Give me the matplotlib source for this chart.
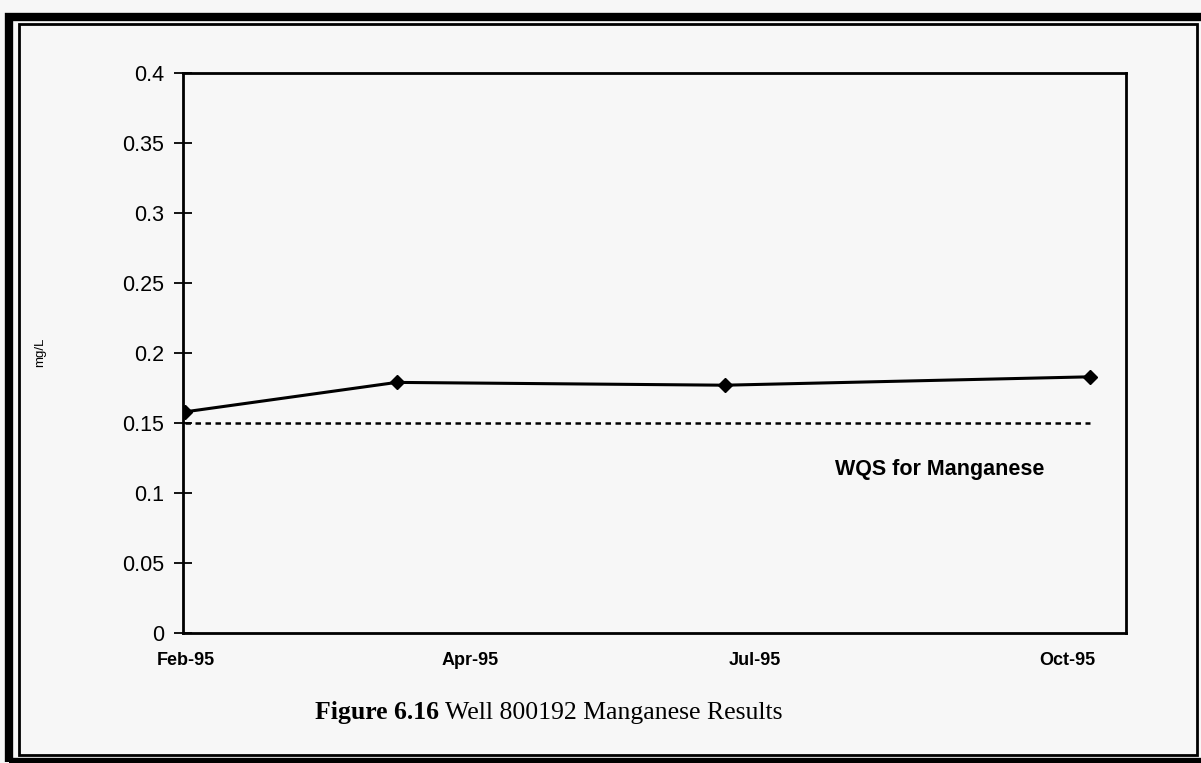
import matplotlib
matplotlib.use("Agg")
import matplotlib.pyplot as plt
import matplotlib.dates as mdates
from matplotlib.patches import Rectangle
import datetime as dt

# Manganese samples, well 800192 (mg/L)
sample_dates = ["1995-02-01", "1995-04-05", "1995-07-12", "1995-10-29"]
mn_values = [0.158, 0.179, 0.177, 0.183]
wqs_limit = 0.15
wqs_label = "WQS for Manganese"

# date axis ticks, labelled as mmm-yy
tick_dates = ["1995-02-01", "1995-04-27", "1995-07-21", "1995-10-22"]
y_ticks = [0, 0.05, 0.1, 0.15, 0.2, 0.25, 0.3, 0.35, 0.4]
y_ticklabels = ["0", "0.05", "0.1", "0.15", "0.2", "0.25", "0.3", "0.35", "0.4"]

to_date = lambda s: dt.datetime.strptime(s, "%Y-%m-%d")
x = [to_date(s) for s in sample_dates]
xt = [to_date(s) for s in tick_dates]

W, H = 1201, 763
bg = "#f7f7f7"
fig = plt.figure(figsize=(W / 100, H / 100), dpi=100, facecolor=bg)


def box(px0, py0, px1, py1):
    # pixel box (top-left origin) -> figure fraction rect
    return [px0 / W, 1 - py1 / H, (px1 - px0) / W, (py1 - py0) / H]


ax = fig.add_axes(box(183, 73, 1126, 633))
ax.set_facecolor(bg)

ax.plot(x, mn_values, color="black", lw=2.2, marker="D", ms=7,
        markerfacecolor="black", markeredgecolor="black", zorder=3)
ax.plot([x[0], x[-1]], [wqs_limit, wqs_limit], color="black", lw=1.8,
        linestyle=(0, (2.2, 1.8)), zorder=2)
ax.text(to_date("1995-09-14"), 0.117, wqs_label, fontsize=15.5,
        fontweight="bold", family="Liberation Sans", ha="center", va="center")

ax.set_ylim(0, 0.4)
ax.set_xlim(to_date("1995-02-01") - dt.timedelta(days=0.7),
            to_date("1995-02-01") + dt.timedelta(days=280.6))
ax.set_yticks(y_ticks)
ax.set_yticklabels(y_ticklabels, family="Liberation Sans", fontsize=15.5)
ax.set_xticks(xt)
ax.xaxis.set_major_formatter(mdates.DateFormatter("%b-%y"))
for lab in ax.get_xticklabels():
    lab.set_family("Liberation Sans")
    lab.set_fontsize(13)
    lab.set_fontweight("bold")
ax.tick_params(axis="y", direction="inout", length=13, width=1.3, pad=7)
ax.tick_params(axis="x", length=0, pad=14)
for sp in ax.spines.values():
    sp.set_linewidth(2)

fig.text(40 / W, 1 - 352 / H, "mg/L", rotation=90, fontsize=9.5,
         family="Liberation Sans", ha="center", va="center")

# double frame round the figure
fig.add_artist(Rectangle((9 / W, 1 - 762 / H), 1196 / W, 745 / H,
                         transform=fig.transFigure, fill=False,
                         lw=6, edgecolor="black"))
fig.add_artist(Rectangle((19 / W, 1 - 755 / H), 1178 / W, 731 / H,
                         transform=fig.transFigure, fill=False,
                         lw=2, edgecolor="black"))

# caption: bold figure number followed by regular text
renderer = fig.canvas.get_renderer()
cap_y = 1 - 719 / H
t1 = fig.text(315 / W, cap_y, "Figure 6.16", fontsize=18.5, fontweight="bold",
              family="Liberation Serif", ha="left", va="baseline")
ext = t1.get_window_extent(renderer)
fig.text(ext.x1 / W, cap_y, " Well 800192 Manganese Results", fontsize=18.5,
         family="Liberation Serif", ha="left", va="baseline")

fig.savefig("out.png", dpi=100, facecolor=bg)
